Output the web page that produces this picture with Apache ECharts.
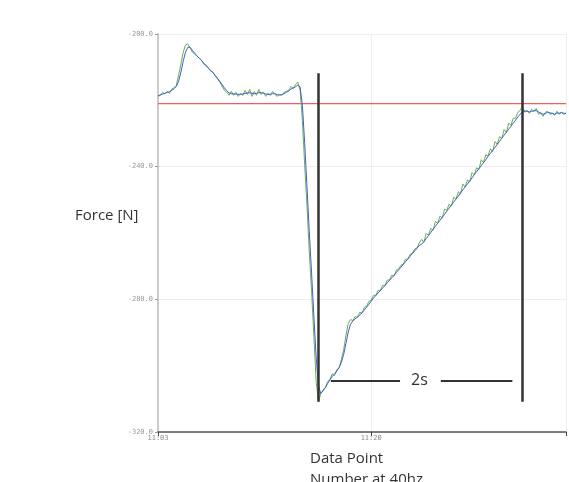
<!DOCTYPE html>
<html>
<head>
  <meta charset="utf-8" />
  <script src="https://cdn.jsdelivr.net/npm/echarts@6/dist/echarts.min.js"></script>
  <style>
    html, body { margin: 0; padding: 0; background: #fff; }
    #main { width: 569px; height: 482px; }
  </style>
  <title>Force</title>
</head>
<body>
  <div id="main"></div>
  <script>
    // x axis: data point index, two time ticks
    var xTickValues = [0, 93];
    var xTickLabels = ['11:03', '11:20'];

    // raw force (green)
    var forceRaw = [
      -218.8, -218.5, -217.6, -218.0, -217.3, -217.9, -216.6, -216.2, -215.5, -212.4,
      -209.1, -205.5, -203.3, -203.0, -204.2, -205.5, -206.0, -206.7, -207.3, -207.9,
      -209.1, -209.4, -210.3, -211.2, -211.5, -212.7, -213.6, -214.5, -215.8, -217.0,
      -217.6, -218.5, -217.3, -218.5, -217.6, -218.8, -217.9, -218.5, -217.0, -218.2,
      -216.7, -218.8, -217.3, -218.5, -216.7, -218.2, -217.6, -218.8, -217.9, -218.5,
      -217.3, -218.2, -218.8, -218.2, -218.5, -217.6, -217.3, -217.0, -215.8, -216.4,
      -215.2, -214.5, -217.0, -226.1, -239.7, -251.8, -265.5, -277.6, -291.2, -304.8,
      -310.9, -308.5, -307.3, -306.7, -304.8, -304.2, -302.4, -303.0, -301.2, -300.6,
      -298.2, -295.2, -290.9, -287.3, -286.1, -286.4, -285.2, -285.5, -283.9, -284.2,
      -282.4, -282.1, -280.6, -280.3, -278.8, -278.8, -277.3, -277.3, -275.8, -275.8,
      -274.2, -274.2, -272.7, -273.0, -271.2, -270.9, -269.7, -269.4, -267.9, -267.9,
      -266.4, -266.1, -264.8, -264.5, -263.0, -261.9, -262.8, -260.1, -260.7, -258.6,
      -259.2, -256.5, -257.1, -254.9, -255.5, -252.8, -253.1, -251.3, -251.9, -249.2,
      -249.8, -247.6, -248.2, -245.2, -246.1, -244.0, -244.6, -241.8, -242.5, -240.3,
      -240.9, -237.9, -238.8, -236.4, -236.7, -234.6, -235.5, -232.4, -233.3, -230.9,
      -231.5, -228.8, -229.7, -226.9, -227.5, -225.4, -225.4, -223.6, -223.0, -221.8,
      -223.6, -223.0, -223.9, -222.7, -223.3, -222.4, -224.2, -223.9, -224.8, -223.6,
      -223.3, -224.2, -223.9, -224.5, -223.3, -224.2, -223.6, -224.2, -223.9
    ];

    // filtered force (blue)
    var forceFiltered = [
      -218.6, -218.4, -218.1, -217.9, -217.6, -217.4, -217.0, -216.5, -215.8, -214.2,
      -211.5, -208.2, -205.5, -204.0, -204.0, -204.9, -205.8, -206.6, -207.3, -208.0,
      -208.8, -209.6, -210.3, -211.0, -211.7, -212.5, -213.4, -214.3, -215.3, -216.3,
      -217.1, -217.8, -218.0, -218.1, -218.1, -218.2, -218.2, -218.1, -217.9, -217.8,
      -217.7, -217.9, -218.0, -217.9, -217.7, -217.7, -217.8, -218.1, -218.2, -218.2,
      -218.0, -218.0, -218.3, -218.4, -218.3, -218.0, -217.6, -217.2, -216.6, -216.3,
      -215.9, -215.4, -216.0, -221.5, -233.0, -246.0, -259.5, -272.0, -285.0, -297.5,
      -306.0, -308.4, -307.6, -306.6, -305.4, -304.3, -303.2, -302.6, -301.6, -300.6,
      -299.0, -296.6, -293.3, -289.8, -287.5, -286.5, -285.9, -285.4, -284.7, -284.1,
      -283.2, -282.4, -281.5, -280.6, -279.6, -278.9, -278.1, -277.4, -276.6, -275.9,
      -275.0, -274.3, -273.5, -272.8, -271.9, -271.1, -270.3, -269.5, -268.6, -267.9,
      -267.0, -266.2, -265.4, -264.6, -263.7, -263.4, -262.6, -261.7, -260.8, -259.9,
      -258.9, -258.0, -257.1, -256.2, -255.3, -254.4, -253.4, -252.5, -251.6, -250.7,
      -249.8, -248.9, -247.9, -247.0, -246.1, -245.2, -244.3, -243.4, -242.4, -241.5,
      -240.6, -239.7, -238.8, -237.9, -236.9, -236.0, -235.1, -234.2, -233.3, -232.4,
      -231.4, -230.5, -229.6, -228.7, -227.8, -226.9, -226.0, -225.0, -224.2, -223.3,
      -223.2, -223.3, -223.5, -223.3, -223.2, -223.1, -223.5, -223.8, -224.2, -224.0,
      -223.6, -223.8, -223.9, -224.2, -223.8, -223.9, -223.7, -223.9, -223.9
    ];

    // reference level (red)
    var refLevel = -221;
    var refSpan = [0, 178];

    // annotations (data coords)
    var markerX = [69.7, 158.9];
    var markerY = [-211.8, -310.9];
    var spanX = [75.4, 105.6, 123.4, 154.6];
    var spanY = -304.5;
    var spanText = '2s';

    function pairs(arr) {
      var out = [];
      for (var i = 0; i < arr.length; i++) out.push([i, arr[i]]);
      return out;
    }

    var chart = echarts.init(document.getElementById('main'), null, { renderer: 'canvas' });

    var darkLine = { color: '#333', width: 2.5, type: 'solid' };
    var spanLine = { color: '#333', width: 1.8, type: 'solid' };

    var option = {
      animation: false,
      backgroundColor: '#fff',
      grid: { left: 158, right: 0, top: 34, bottom: 50 },
      xAxis: {
        type: 'value',
        min: 0,
        max: 178,
        interval: 93,
        axisLine: { show: true, onZero: false, lineStyle: { color: '#555', width: 1.5 } },
        axisTick: { show: true, length: 4, lineStyle: { color: '#444' } },
        axisLabel: {
          color: '#888', fontSize: 7, fontFamily: 'DejaVu Sans Mono', margin: 3,
          formatter: function (v) {
            var k = xTickValues.indexOf(v);
            return k >= 0 ? xTickLabels[k] : '';
          }
        },
        splitLine: { show: true, lineStyle: { color: '#eeeeee', width: 1 } }
      },
      yAxis: {
        type: 'value',
        min: -320,
        max: -200,
        interval: 40,
        axisLine: { show: true, lineStyle: { color: '#cccccc', width: 2 } },
        axisTick: { show: true, length: 3, lineStyle: { color: '#999' } },
        axisLabel: {
          color: '#999', fontSize: 7, fontFamily: 'DejaVu Sans Mono', margin: 5,
          formatter: function (v) { return v.toFixed(1); }
        },
        splitLine: { show: true, lineStyle: { color: '#eeeeee', width: 1 } }
      },
      series: [
        {
          name: 'reference',
          type: 'line',
          data: [[refSpan[0], refLevel], [refSpan[1], refLevel]],
          symbol: 'none',
          silent: true,
          color: '#f25c5c',
          lineStyle: { color: '#f25c5c', width: 1.2 }
        },
        {
          name: 'raw',
          type: 'line',
          data: pairs(forceRaw),
          symbol: 'none',
          color: '#6ab04c',
          lineStyle: { color: '#6ab04c', width: 1 }
        },
        {
          name: 'filtered',
          type: 'line',
          data: pairs(forceFiltered),
          symbol: 'none',
          color: '#3f5fd0',
          lineStyle: { color: '#3f5fd0', width: 1 },
          markLine: {
            silent: true,
            symbol: 'none',
            label: { show: false },
            data: [
              [{ coord: [markerX[0], markerY[0]], lineStyle: darkLine },
               { coord: [markerX[0], markerY[1]] }],
              [{ coord: [markerX[1], markerY[0]], lineStyle: darkLine },
               { coord: [markerX[1], markerY[1]] }],
              [{ coord: [spanX[0], spanY], lineStyle: spanLine,
                 label: {
                   show: true, position: 'end', formatter: spanText, distance: 11,
                   color: '#333', fontSize: 16, fontFamily: 'Open Sans'
                 } },
               { coord: [spanX[1], spanY] }],
              [{ coord: [spanX[2], spanY], lineStyle: spanLine },
               { coord: [spanX[3], spanY] }]
            ]
          }
        }
      ],
      graphic: [
        {
          type: 'text', left: 75, top: 208,
          style: { text: 'Force [N]', fill: '#333', font: '15px "Open Sans"' }
        },
        {
          type: 'text', left: 310, top: 448,
          style: { text: 'Data Point\nNumber at 40hz', fill: '#333', font: '15px "Open Sans"', lineHeight: 21 }
        }
      ]
    };

    chart.setOption(option);
  </script>
</body>
</html>
